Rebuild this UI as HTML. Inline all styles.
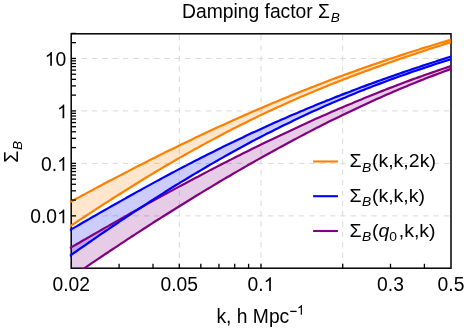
<!DOCTYPE html>
<html><head><meta charset="utf-8"><title>Damping factor</title>
<style>
html,body{margin:0;padding:0;background:#fff;}
svg{display:block;will-change:transform;font-family:"Liberation Sans",sans-serif;font-size:19.3px;fill:#000;}
</style></head><body>
<svg width="466" height="330" viewBox="0 0 466 330">
<rect width="466" height="330" fill="#fff"/>
<g stroke="#d9d9d9" stroke-width="1" stroke-dasharray="5.45 4.9" fill="none">
<line x1="71.2" y1="58.45" x2="451.0" y2="58.45"/>
<line x1="71.2" y1="110.92" x2="451.0" y2="110.92"/>
<line x1="71.2" y1="163.39" x2="451.0" y2="163.39"/>
<line x1="71.2" y1="215.86" x2="451.0" y2="215.86"/>
<line x1="179.30" y1="268.2" x2="179.30" y2="33.8"/>
<line x1="261.00" y1="268.2" x2="261.00" y2="33.8"/>
<line x1="342.70" y1="268.2" x2="342.70" y2="33.8"/>
</g>
<clipPath id="c"><rect x="69.60" y="33.8" width="381.70" height="235.30"/></clipPath>
<clipPath id="f"><rect x="71.2" y="33.8" width="379.8" height="234.39999999999998"/></clipPath>
<g clip-path="url(#f)">
<path d="M69.7,202.3L72.9,200.5L76.1,198.8L79.3,197.1L82.5,195.3L85.7,193.6L88.9,191.9L92.1,190.2L95.3,188.4L98.5,186.7L101.7,185.0L104.9,183.3L108.2,181.6L111.4,180.0L114.6,178.3L117.8,176.6L121.0,174.9L124.2,173.3L127.4,171.6L130.6,169.9L133.8,168.3L137.0,166.6L140.2,165.0L143.4,163.4L146.6,161.8L149.8,160.1L153.0,158.5L156.2,156.9L159.4,155.3L162.6,153.7L165.8,152.1L169.0,150.5L172.2,149.0L175.4,147.4L178.6,145.8L181.8,144.3L185.1,142.7L188.3,141.2L191.5,139.7L194.7,138.1L197.9,136.6L201.1,135.1L204.3,133.6L207.5,132.1L210.7,130.6L213.9,129.1L217.1,127.6L220.3,126.1L223.5,124.7L226.7,123.2L229.9,121.8L233.1,120.3L236.3,118.9L239.5,117.5L242.7,116.0L245.9,114.6L249.1,113.2L252.3,111.8L255.5,110.4L258.7,109.0L262.0,107.7L265.2,106.3L268.4,104.9L271.6,103.6L274.8,102.2L278.0,100.9L281.2,99.6L284.4,98.2L287.6,96.9L290.8,95.6L294.0,94.3L297.2,93.0L300.4,91.7L303.6,90.5L306.8,89.2L310.0,87.9L313.2,86.7L316.4,85.4L319.6,84.2L322.8,83.0L326.0,81.7L329.2,80.5L332.4,79.3L335.6,78.1L338.9,76.9L342.1,75.7L345.3,74.5L348.5,73.4L351.7,72.2L354.9,71.1L358.1,69.9L361.3,68.8L364.5,67.6L367.7,66.5L370.9,65.4L374.1,64.3L377.3,63.2L380.5,62.1L383.7,61.0L386.9,59.9L390.1,58.8L393.3,57.7L396.5,56.7L399.7,55.6L402.9,54.6L406.1,53.5L409.3,52.5L412.5,51.5L415.8,50.5L419.0,49.5L422.2,48.4L425.4,47.4L428.6,46.5L431.8,45.5L435.0,44.5L438.2,43.5L441.4,42.5L444.6,41.6L447.8,40.6L451.0,39.7L451.0,42.1L447.8,43.1L444.6,44.1L441.4,45.2L438.2,46.2L435.0,47.3L431.8,48.3L428.6,49.3L425.4,50.4L422.2,51.5L419.0,52.5L415.8,53.6L412.5,54.7L409.3,55.7L406.1,56.8L402.9,57.9L399.7,59.0L396.5,60.1L393.3,61.2L390.1,62.3L386.9,63.5L383.7,64.6L380.5,65.7L377.3,66.9L374.1,68.0L370.9,69.2L367.7,70.4L364.5,71.5L361.3,72.7L358.1,73.9L354.9,75.1L351.7,76.3L348.5,77.6L345.3,78.8L342.1,80.0L338.9,81.3L335.6,82.6L332.4,83.8L329.2,85.1L326.0,86.4L322.8,87.7L319.6,89.0L316.4,90.3L313.2,91.7L310.0,93.0L306.8,94.4L303.6,95.8L300.4,97.1L297.2,98.5L294.0,99.9L290.8,101.3L287.6,102.8L284.4,104.2L281.2,105.7L278.0,107.1L274.8,108.6L271.6,110.1L268.4,111.6L265.2,113.1L262.0,114.6L258.7,116.1L255.5,117.7L252.3,119.2L249.1,120.8L245.9,122.4L242.7,124.0L239.5,125.6L236.3,127.2L233.1,128.8L229.9,130.5L226.7,132.1L223.5,133.8L220.3,135.5L217.1,137.2L213.9,138.9L210.7,140.6L207.5,142.3L204.3,144.1L201.1,145.8L197.9,147.6L194.7,149.3L191.5,151.1L188.3,152.9L185.1,154.7L181.8,156.6L178.6,158.4L175.4,160.2L172.2,162.1L169.0,164.0L165.8,165.8L162.6,167.7L159.4,169.6L156.2,171.5L153.0,173.5L149.8,175.4L146.6,177.3L143.4,179.3L140.2,181.2L137.0,183.2L133.8,185.2L130.6,187.2L127.4,189.2L124.2,191.2L121.0,193.2L117.8,195.2L114.6,197.3L111.4,199.3L108.2,201.4L104.9,203.4L101.7,205.5L98.5,207.6L95.3,209.7L92.1,211.8L88.9,213.9L85.7,216.0L82.5,218.1L79.3,220.2L76.1,222.3L72.9,224.4L69.7,226.6Z" fill="#ff8000" fill-opacity="0.2" stroke="none"/>
<path d="M69.7,230.3L72.9,228.4L76.1,226.6L79.3,224.7L82.5,222.8L85.7,221.0L88.9,219.1L92.1,217.3L95.3,215.5L98.5,213.6L101.7,211.8L104.9,210.0L108.2,208.1L111.4,206.3L114.6,204.5L117.8,202.7L121.0,200.9L124.2,199.1L127.4,197.3L130.6,195.5L133.8,193.7L137.0,191.9L140.2,190.2L143.4,188.4L146.6,186.6L149.8,184.9L153.0,183.1L156.2,181.4L159.4,179.7L162.6,177.9L165.8,176.2L169.0,174.5L172.2,172.8L175.4,171.1L178.6,169.4L181.8,167.7L185.1,166.1L188.3,164.4L191.5,162.7L194.7,161.1L197.9,159.5L201.1,157.8L204.3,156.2L207.5,154.6L210.7,153.0L213.9,151.4L217.1,149.8L220.3,148.2L223.5,146.6L226.7,145.1L229.9,143.5L233.1,142.0L236.3,140.4L239.5,138.9L242.7,137.4L245.9,135.8L249.1,134.3L252.3,132.8L255.5,131.4L258.7,129.9L262.0,128.4L265.2,127.0L268.4,125.5L271.6,124.1L274.8,122.6L278.0,121.2L281.2,119.8L284.4,118.4L287.6,117.0L290.8,115.6L294.0,114.2L297.2,112.9L300.4,111.5L303.6,110.2L306.8,108.8L310.0,107.5L313.2,106.2L316.4,104.8L319.6,103.5L322.8,102.2L326.0,100.9L329.2,99.7L332.4,98.4L335.6,97.1L338.9,95.9L342.1,94.6L345.3,93.4L348.5,92.2L351.7,90.9L354.9,89.7L358.1,88.5L361.3,87.3L364.5,86.1L367.7,84.9L370.9,83.8L374.1,82.6L377.3,81.4L380.5,80.3L383.7,79.1L386.9,78.0L390.1,76.9L393.3,75.7L396.5,74.6L399.7,73.5L402.9,72.4L406.1,71.3L409.3,70.2L412.5,69.1L415.8,68.0L419.0,67.0L422.2,65.9L425.4,64.8L428.6,63.8L431.8,62.7L435.0,61.7L438.2,60.6L441.4,59.6L444.6,58.6L447.8,57.5L451.0,56.5L451.0,59.3L447.8,60.3L444.6,61.3L441.4,62.3L438.2,63.3L435.0,64.3L431.8,65.4L428.6,66.4L425.4,67.5L422.2,68.6L419.0,69.6L415.8,70.7L412.5,71.8L409.3,72.9L406.1,74.1L402.9,75.2L399.7,76.3L396.5,77.5L393.3,78.6L390.1,79.8L386.9,81.0L383.7,82.2L380.5,83.4L377.3,84.6L374.1,85.8L370.9,87.1L367.7,88.3L364.5,89.6L361.3,90.8L358.1,92.1L354.9,93.4L351.7,94.7L348.5,96.0L345.3,97.4L342.1,98.7L338.9,100.1L335.6,101.4L332.4,102.8L329.2,104.2L326.0,105.6L322.8,107.0L319.6,108.5L316.4,109.9L313.2,111.3L310.0,112.8L306.8,114.3L303.6,115.8L300.4,117.3L297.2,118.8L294.0,120.3L290.8,121.9L287.6,123.4L284.4,125.0L281.2,126.6L278.0,128.2L274.8,129.8L271.6,131.4L268.4,133.0L265.2,134.6L262.0,136.3L258.7,138.0L255.5,139.6L252.3,141.3L249.1,143.0L245.9,144.8L242.7,146.5L239.5,148.2L236.3,150.0L233.1,151.7L229.9,153.5L226.7,155.3L223.5,157.1L220.3,158.9L217.1,160.8L213.9,162.6L210.7,164.4L207.5,166.3L204.3,168.2L201.1,170.1L197.9,172.0L194.7,173.9L191.5,175.8L188.3,177.7L185.1,179.7L181.8,181.6L178.6,183.6L175.4,185.5L172.2,187.5L169.0,189.5L165.8,191.5L162.6,193.6L159.4,195.6L156.2,197.6L153.0,199.7L149.8,201.7L146.6,203.8L143.4,205.9L140.2,208.0L137.0,210.1L133.8,212.2L130.6,214.3L127.4,216.4L124.2,218.5L121.0,220.7L117.8,222.8L114.6,225.0L111.4,227.1L108.2,229.3L104.9,231.5L101.7,233.7L98.5,235.9L95.3,238.1L92.1,240.3L88.9,242.5L85.7,244.8L82.5,247.0L79.3,249.2L76.1,251.5L72.9,253.7L69.7,256.0Z" fill="#0000ff" fill-opacity="0.2" stroke="none"/>
<path d="M69.7,248.3L72.9,246.4L76.1,244.5L79.3,242.7L82.5,240.8L85.7,239.0L88.9,237.1L92.1,235.2L95.3,233.4L98.5,231.6L101.7,229.7L104.9,227.9L108.2,226.1L111.4,224.2L114.6,222.4L117.8,220.6L121.0,218.8L124.2,217.0L127.4,215.1L130.6,213.3L133.8,211.5L137.0,209.8L140.2,208.0L143.4,206.2L146.6,204.4L149.8,202.6L153.0,200.9L156.2,199.1L159.4,197.3L162.6,195.6L165.8,193.8L169.0,192.1L172.2,190.4L175.4,188.6L178.6,186.9L181.8,185.2L185.1,183.5L188.3,181.7L191.5,180.0L194.7,178.3L197.9,176.7L201.1,175.0L204.3,173.3L207.5,171.6L210.7,169.9L213.9,168.3L217.1,166.6L220.3,165.0L223.5,163.3L226.7,161.7L229.9,160.1L233.1,158.4L236.3,156.8L239.5,155.2L242.7,153.6L245.9,152.0L249.1,150.4L252.3,148.8L255.5,147.2L258.7,145.7L262.0,144.1L265.2,142.5L268.4,141.0L271.6,139.5L274.8,137.9L278.0,136.4L281.2,134.9L284.4,133.4L287.6,131.9L290.8,130.4L294.0,128.9L297.2,127.4L300.4,125.9L303.6,124.4L306.8,123.0L310.0,121.5L313.2,120.1L316.4,118.6L319.6,117.2L322.8,115.8L326.0,114.4L329.2,113.0L332.4,111.6L335.6,110.2L338.9,108.8L342.1,107.4L345.3,106.1L348.5,104.7L351.7,103.4L354.9,102.0L358.1,100.7L361.3,99.4L364.5,98.1L367.7,96.8L370.9,95.5L374.1,94.2L377.3,92.9L380.5,91.6L383.7,90.4L386.9,89.1L390.1,87.9L393.3,86.7L396.5,85.4L399.7,84.2L402.9,83.0L406.1,81.8L409.3,80.6L412.5,79.4L415.8,78.3L419.0,77.1L422.2,76.0L425.4,74.8L428.6,73.7L431.8,72.6L435.0,71.5L438.2,70.4L441.4,69.3L444.6,68.2L447.8,67.1L451.0,66.0L451.0,68.9L447.8,70.1L444.6,71.3L441.4,72.5L438.2,73.7L435.0,74.9L431.8,76.1L428.6,77.3L425.4,78.6L422.2,79.9L419.0,81.1L415.8,82.4L412.5,83.7L409.3,85.0L406.1,86.4L402.9,87.7L399.7,89.1L396.5,90.4L393.3,91.8L390.1,93.2L386.9,94.6L383.7,96.0L380.5,97.4L377.3,98.8L374.1,100.3L370.9,101.7L367.7,103.2L364.5,104.7L361.3,106.2L358.1,107.7L354.9,109.2L351.7,110.7L348.5,112.2L345.3,113.8L342.1,115.3L338.9,116.9L335.6,118.5L332.4,120.0L329.2,121.6L326.0,123.2L322.8,124.8L319.6,126.5L316.4,128.1L313.2,129.7L310.0,131.4L306.8,133.1L303.6,134.7L300.4,136.4L297.2,138.1L294.0,139.8L290.8,141.5L287.6,143.2L284.4,145.0L281.2,146.7L278.0,148.4L274.8,150.2L271.6,152.0L268.4,153.7L265.2,155.5L262.0,157.3L258.7,159.1L255.5,160.9L252.3,162.7L249.1,164.5L245.9,166.4L242.7,168.2L239.5,170.1L236.3,171.9L233.1,173.8L229.9,175.7L226.7,177.5L223.5,179.4L220.3,181.3L217.1,183.2L213.9,185.1L210.7,187.1L207.5,189.0L204.3,190.9L201.1,192.9L197.9,194.8L194.7,196.8L191.5,198.7L188.3,200.7L185.1,202.7L181.8,204.7L178.6,206.7L175.4,208.7L172.2,210.7L169.0,212.7L165.8,214.7L162.6,216.7L159.4,218.8L156.2,220.8L153.0,222.8L149.8,224.9L146.6,227.0L143.4,229.0L140.2,231.1L137.0,233.2L133.8,235.3L130.6,237.3L127.4,239.4L124.2,241.6L121.0,243.7L117.8,245.8L114.6,247.9L111.4,250.0L108.2,252.2L104.9,254.3L101.7,256.5L98.5,258.6L95.3,260.8L92.1,262.9L88.9,265.1L85.7,267.3L82.5,269.5L79.3,271.6L76.1,273.8L72.9,276.0L69.7,278.2Z" fill="#800080" fill-opacity="0.2" stroke="none"/>
</g>
<rect x="71.2" y="33.8" width="379.8" height="234.39999999999998" fill="none" stroke="#000" stroke-width="1.5"/>
<g clip-path="url(#c)" stroke-linejoin="round">
<path d="M69.7,248.3L72.9,246.4L76.1,244.5L79.3,242.7L82.5,240.8L85.7,239.0L88.9,237.1L92.1,235.2L95.3,233.4L98.5,231.6L101.7,229.7L104.9,227.9L108.2,226.1L111.4,224.2L114.6,222.4L117.8,220.6L121.0,218.8L124.2,217.0L127.4,215.1L130.6,213.3L133.8,211.5L137.0,209.8L140.2,208.0L143.4,206.2L146.6,204.4L149.8,202.6L153.0,200.9L156.2,199.1L159.4,197.3L162.6,195.6L165.8,193.8L169.0,192.1L172.2,190.4L175.4,188.6L178.6,186.9L181.8,185.2L185.1,183.5L188.3,181.7L191.5,180.0L194.7,178.3L197.9,176.7L201.1,175.0L204.3,173.3L207.5,171.6L210.7,169.9L213.9,168.3L217.1,166.6L220.3,165.0L223.5,163.3L226.7,161.7L229.9,160.1L233.1,158.4L236.3,156.8L239.5,155.2L242.7,153.6L245.9,152.0L249.1,150.4L252.3,148.8L255.5,147.2L258.7,145.7L262.0,144.1L265.2,142.5L268.4,141.0L271.6,139.5L274.8,137.9L278.0,136.4L281.2,134.9L284.4,133.4L287.6,131.9L290.8,130.4L294.0,128.9L297.2,127.4L300.4,125.9L303.6,124.4L306.8,123.0L310.0,121.5L313.2,120.1L316.4,118.6L319.6,117.2L322.8,115.8L326.0,114.4L329.2,113.0L332.4,111.6L335.6,110.2L338.9,108.8L342.1,107.4L345.3,106.1L348.5,104.7L351.7,103.4L354.9,102.0L358.1,100.7L361.3,99.4L364.5,98.1L367.7,96.8L370.9,95.5L374.1,94.2L377.3,92.9L380.5,91.6L383.7,90.4L386.9,89.1L390.1,87.9L393.3,86.7L396.5,85.4L399.7,84.2L402.9,83.0L406.1,81.8L409.3,80.6L412.5,79.4L415.8,78.3L419.0,77.1L422.2,76.0L425.4,74.8L428.6,73.7L431.8,72.6L435.0,71.5L438.2,70.4L441.4,69.3L444.6,68.2L447.8,67.1L451.0,66.0" fill="none" stroke="#800080" stroke-width="2.2"/>
<path d="M69.7,278.2L72.9,276.0L76.1,273.8L79.3,271.6L82.5,269.5L85.7,267.3L88.9,265.1L92.1,262.9L95.3,260.8L98.5,258.6L101.7,256.5L104.9,254.3L108.2,252.2L111.4,250.0L114.6,247.9L117.8,245.8L121.0,243.7L124.2,241.6L127.4,239.4L130.6,237.3L133.8,235.3L137.0,233.2L140.2,231.1L143.4,229.0L146.6,227.0L149.8,224.9L153.0,222.8L156.2,220.8L159.4,218.8L162.6,216.7L165.8,214.7L169.0,212.7L172.2,210.7L175.4,208.7L178.6,206.7L181.8,204.7L185.1,202.7L188.3,200.7L191.5,198.7L194.7,196.8L197.9,194.8L201.1,192.9L204.3,190.9L207.5,189.0L210.7,187.1L213.9,185.1L217.1,183.2L220.3,181.3L223.5,179.4L226.7,177.5L229.9,175.7L233.1,173.8L236.3,171.9L239.5,170.1L242.7,168.2L245.9,166.4L249.1,164.5L252.3,162.7L255.5,160.9L258.7,159.1L262.0,157.3L265.2,155.5L268.4,153.7L271.6,152.0L274.8,150.2L278.0,148.4L281.2,146.7L284.4,145.0L287.6,143.2L290.8,141.5L294.0,139.8L297.2,138.1L300.4,136.4L303.6,134.7L306.8,133.1L310.0,131.4L313.2,129.7L316.4,128.1L319.6,126.5L322.8,124.8L326.0,123.2L329.2,121.6L332.4,120.0L335.6,118.5L338.9,116.9L342.1,115.3L345.3,113.8L348.5,112.2L351.7,110.7L354.9,109.2L358.1,107.7L361.3,106.2L364.5,104.7L367.7,103.2L370.9,101.7L374.1,100.3L377.3,98.8L380.5,97.4L383.7,96.0L386.9,94.6L390.1,93.2L393.3,91.8L396.5,90.4L399.7,89.1L402.9,87.7L406.1,86.4L409.3,85.0L412.5,83.7L415.8,82.4L419.0,81.1L422.2,79.9L425.4,78.6L428.6,77.3L431.8,76.1L435.0,74.9L438.2,73.7L441.4,72.5L444.6,71.3L447.8,70.1L451.0,68.9" fill="none" stroke="#800080" stroke-width="2.2"/>
<path d="M69.7,230.3L72.9,228.4L76.1,226.6L79.3,224.7L82.5,222.8L85.7,221.0L88.9,219.1L92.1,217.3L95.3,215.5L98.5,213.6L101.7,211.8L104.9,210.0L108.2,208.1L111.4,206.3L114.6,204.5L117.8,202.7L121.0,200.9L124.2,199.1L127.4,197.3L130.6,195.5L133.8,193.7L137.0,191.9L140.2,190.2L143.4,188.4L146.6,186.6L149.8,184.9L153.0,183.1L156.2,181.4L159.4,179.7L162.6,177.9L165.8,176.2L169.0,174.5L172.2,172.8L175.4,171.1L178.6,169.4L181.8,167.7L185.1,166.1L188.3,164.4L191.5,162.7L194.7,161.1L197.9,159.5L201.1,157.8L204.3,156.2L207.5,154.6L210.7,153.0L213.9,151.4L217.1,149.8L220.3,148.2L223.5,146.6L226.7,145.1L229.9,143.5L233.1,142.0L236.3,140.4L239.5,138.9L242.7,137.4L245.9,135.8L249.1,134.3L252.3,132.8L255.5,131.4L258.7,129.9L262.0,128.4L265.2,127.0L268.4,125.5L271.6,124.1L274.8,122.6L278.0,121.2L281.2,119.8L284.4,118.4L287.6,117.0L290.8,115.6L294.0,114.2L297.2,112.9L300.4,111.5L303.6,110.2L306.8,108.8L310.0,107.5L313.2,106.2L316.4,104.8L319.6,103.5L322.8,102.2L326.0,100.9L329.2,99.7L332.4,98.4L335.6,97.1L338.9,95.9L342.1,94.6L345.3,93.4L348.5,92.2L351.7,90.9L354.9,89.7L358.1,88.5L361.3,87.3L364.5,86.1L367.7,84.9L370.9,83.8L374.1,82.6L377.3,81.4L380.5,80.3L383.7,79.1L386.9,78.0L390.1,76.9L393.3,75.7L396.5,74.6L399.7,73.5L402.9,72.4L406.1,71.3L409.3,70.2L412.5,69.1L415.8,68.0L419.0,67.0L422.2,65.9L425.4,64.8L428.6,63.8L431.8,62.7L435.0,61.7L438.2,60.6L441.4,59.6L444.6,58.6L447.8,57.5L451.0,56.5" fill="none" stroke="#0000ff" stroke-width="2.2"/>
<path d="M69.7,256.0L72.9,253.7L76.1,251.5L79.3,249.2L82.5,247.0L85.7,244.8L88.9,242.5L92.1,240.3L95.3,238.1L98.5,235.9L101.7,233.7L104.9,231.5L108.2,229.3L111.4,227.1L114.6,225.0L117.8,222.8L121.0,220.7L124.2,218.5L127.4,216.4L130.6,214.3L133.8,212.2L137.0,210.1L140.2,208.0L143.4,205.9L146.6,203.8L149.8,201.7L153.0,199.7L156.2,197.6L159.4,195.6L162.6,193.6L165.8,191.5L169.0,189.5L172.2,187.5L175.4,185.5L178.6,183.6L181.8,181.6L185.1,179.7L188.3,177.7L191.5,175.8L194.7,173.9L197.9,172.0L201.1,170.1L204.3,168.2L207.5,166.3L210.7,164.4L213.9,162.6L217.1,160.8L220.3,158.9L223.5,157.1L226.7,155.3L229.9,153.5L233.1,151.7L236.3,150.0L239.5,148.2L242.7,146.5L245.9,144.8L249.1,143.0L252.3,141.3L255.5,139.6L258.7,138.0L262.0,136.3L265.2,134.6L268.4,133.0L271.6,131.4L274.8,129.8L278.0,128.2L281.2,126.6L284.4,125.0L287.6,123.4L290.8,121.9L294.0,120.3L297.2,118.8L300.4,117.3L303.6,115.8L306.8,114.3L310.0,112.8L313.2,111.3L316.4,109.9L319.6,108.5L322.8,107.0L326.0,105.6L329.2,104.2L332.4,102.8L335.6,101.4L338.9,100.1L342.1,98.7L345.3,97.4L348.5,96.0L351.7,94.7L354.9,93.4L358.1,92.1L361.3,90.8L364.5,89.6L367.7,88.3L370.9,87.1L374.1,85.8L377.3,84.6L380.5,83.4L383.7,82.2L386.9,81.0L390.1,79.8L393.3,78.6L396.5,77.5L399.7,76.3L402.9,75.2L406.1,74.1L409.3,72.9L412.5,71.8L415.8,70.7L419.0,69.6L422.2,68.6L425.4,67.5L428.6,66.4L431.8,65.4L435.0,64.3L438.2,63.3L441.4,62.3L444.6,61.3L447.8,60.3L451.0,59.3" fill="none" stroke="#0000ff" stroke-width="2.2"/>
<path d="M69.7,202.3L72.9,200.5L76.1,198.8L79.3,197.1L82.5,195.3L85.7,193.6L88.9,191.9L92.1,190.2L95.3,188.4L98.5,186.7L101.7,185.0L104.9,183.3L108.2,181.6L111.4,180.0L114.6,178.3L117.8,176.6L121.0,174.9L124.2,173.3L127.4,171.6L130.6,169.9L133.8,168.3L137.0,166.6L140.2,165.0L143.4,163.4L146.6,161.8L149.8,160.1L153.0,158.5L156.2,156.9L159.4,155.3L162.6,153.7L165.8,152.1L169.0,150.5L172.2,149.0L175.4,147.4L178.6,145.8L181.8,144.3L185.1,142.7L188.3,141.2L191.5,139.7L194.7,138.1L197.9,136.6L201.1,135.1L204.3,133.6L207.5,132.1L210.7,130.6L213.9,129.1L217.1,127.6L220.3,126.1L223.5,124.7L226.7,123.2L229.9,121.8L233.1,120.3L236.3,118.9L239.5,117.5L242.7,116.0L245.9,114.6L249.1,113.2L252.3,111.8L255.5,110.4L258.7,109.0L262.0,107.7L265.2,106.3L268.4,104.9L271.6,103.6L274.8,102.2L278.0,100.9L281.2,99.6L284.4,98.2L287.6,96.9L290.8,95.6L294.0,94.3L297.2,93.0L300.4,91.7L303.6,90.5L306.8,89.2L310.0,87.9L313.2,86.7L316.4,85.4L319.6,84.2L322.8,83.0L326.0,81.7L329.2,80.5L332.4,79.3L335.6,78.1L338.9,76.9L342.1,75.7L345.3,74.5L348.5,73.4L351.7,72.2L354.9,71.1L358.1,69.9L361.3,68.8L364.5,67.6L367.7,66.5L370.9,65.4L374.1,64.3L377.3,63.2L380.5,62.1L383.7,61.0L386.9,59.9L390.1,58.8L393.3,57.7L396.5,56.7L399.7,55.6L402.9,54.6L406.1,53.5L409.3,52.5L412.5,51.5L415.8,50.5L419.0,49.5L422.2,48.4L425.4,47.4L428.6,46.5L431.8,45.5L435.0,44.5L438.2,43.5L441.4,42.5L444.6,41.6L447.8,40.6L451.0,39.7" fill="none" stroke="#ff8000" stroke-width="2.2"/>
<path d="M69.7,226.6L72.9,224.4L76.1,222.3L79.3,220.2L82.5,218.1L85.7,216.0L88.9,213.9L92.1,211.8L95.3,209.7L98.5,207.6L101.7,205.5L104.9,203.4L108.2,201.4L111.4,199.3L114.6,197.3L117.8,195.2L121.0,193.2L124.2,191.2L127.4,189.2L130.6,187.2L133.8,185.2L137.0,183.2L140.2,181.2L143.4,179.3L146.6,177.3L149.8,175.4L153.0,173.5L156.2,171.5L159.4,169.6L162.6,167.7L165.8,165.8L169.0,164.0L172.2,162.1L175.4,160.2L178.6,158.4L181.8,156.6L185.1,154.7L188.3,152.9L191.5,151.1L194.7,149.3L197.9,147.6L201.1,145.8L204.3,144.1L207.5,142.3L210.7,140.6L213.9,138.9L217.1,137.2L220.3,135.5L223.5,133.8L226.7,132.1L229.9,130.5L233.1,128.8L236.3,127.2L239.5,125.6L242.7,124.0L245.9,122.4L249.1,120.8L252.3,119.2L255.5,117.7L258.7,116.1L262.0,114.6L265.2,113.1L268.4,111.6L271.6,110.1L274.8,108.6L278.0,107.1L281.2,105.7L284.4,104.2L287.6,102.8L290.8,101.3L294.0,99.9L297.2,98.5L300.4,97.1L303.6,95.8L306.8,94.4L310.0,93.0L313.2,91.7L316.4,90.3L319.6,89.0L322.8,87.7L326.0,86.4L329.2,85.1L332.4,83.8L335.6,82.6L338.9,81.3L342.1,80.0L345.3,78.8L348.5,77.6L351.7,76.3L354.9,75.1L358.1,73.9L361.3,72.7L364.5,71.5L367.7,70.4L370.9,69.2L374.1,68.0L377.3,66.9L380.5,65.7L383.7,64.6L386.9,63.5L390.1,62.3L393.3,61.2L396.5,60.1L399.7,59.0L402.9,57.9L406.1,56.8L409.3,55.7L412.5,54.7L415.8,53.6L419.0,52.5L422.2,51.5L425.4,50.4L428.6,49.3L431.8,48.3L435.0,47.3L438.2,46.2L441.4,45.2L444.6,44.1L447.8,43.1L451.0,42.1" fill="none" stroke="#ff8000" stroke-width="2.2"/>
</g>
<g stroke="#000" stroke-width="1.3">
<line x1="71.2" y1="215.86" x2="76.0" y2="215.86"/>
<line x1="71.2" y1="200.06" x2="76.0" y2="200.06"/>
<line x1="71.2" y1="190.83" x2="76.0" y2="190.83"/>
<line x1="71.2" y1="184.27" x2="76.0" y2="184.27"/>
<line x1="71.2" y1="179.19" x2="76.0" y2="179.19"/>
<line x1="71.2" y1="175.03" x2="76.0" y2="175.03"/>
<line x1="71.2" y1="171.52" x2="76.0" y2="171.52"/>
<line x1="71.2" y1="168.47" x2="76.0" y2="168.47"/>
<line x1="71.2" y1="165.79" x2="76.0" y2="165.79"/>
<line x1="71.2" y1="163.39" x2="76.0" y2="163.39"/>
<line x1="71.2" y1="147.59" x2="76.0" y2="147.59"/>
<line x1="71.2" y1="138.36" x2="76.0" y2="138.36"/>
<line x1="71.2" y1="131.80" x2="76.0" y2="131.80"/>
<line x1="71.2" y1="126.72" x2="76.0" y2="126.72"/>
<line x1="71.2" y1="122.56" x2="76.0" y2="122.56"/>
<line x1="71.2" y1="119.05" x2="76.0" y2="119.05"/>
<line x1="71.2" y1="116.00" x2="76.0" y2="116.00"/>
<line x1="71.2" y1="113.32" x2="76.0" y2="113.32"/>
<line x1="71.2" y1="110.92" x2="76.0" y2="110.92"/>
<line x1="71.2" y1="95.12" x2="76.0" y2="95.12"/>
<line x1="71.2" y1="85.89" x2="76.0" y2="85.89"/>
<line x1="71.2" y1="79.33" x2="76.0" y2="79.33"/>
<line x1="71.2" y1="74.25" x2="76.0" y2="74.25"/>
<line x1="71.2" y1="70.09" x2="76.0" y2="70.09"/>
<line x1="71.2" y1="66.58" x2="76.0" y2="66.58"/>
<line x1="71.2" y1="63.53" x2="76.0" y2="63.53"/>
<line x1="71.2" y1="60.85" x2="76.0" y2="60.85"/>
<line x1="71.2" y1="58.45" x2="76.0" y2="58.45"/>
<line x1="71.2" y1="42.65" x2="76.0" y2="42.65"/>
<line x1="71.2" y1="33.42" x2="76.0" y2="33.42"/>
<line x1="119.09" y1="268.2" x2="119.09" y2="263.80"/>
<line x1="153.00" y1="268.2" x2="153.00" y2="263.80"/>
<line x1="179.30" y1="268.2" x2="179.30" y2="263.80"/>
<line x1="200.79" y1="268.2" x2="200.79" y2="263.80"/>
<line x1="218.96" y1="268.2" x2="218.96" y2="263.80"/>
<line x1="234.70" y1="268.2" x2="234.70" y2="263.80"/>
<line x1="248.58" y1="268.2" x2="248.58" y2="263.80"/>
<line x1="261.00" y1="268.2" x2="261.00" y2="263.80"/>
<line x1="342.70" y1="268.2" x2="342.70" y2="263.80"/>
<line x1="390.49" y1="268.2" x2="390.49" y2="263.80"/>
<line x1="424.40" y1="268.2" x2="424.40" y2="263.80"/>
</g>
<path transform="translate(44.73,65.85) scale(0.00942,-0.00942)" d="M763 0H583V1147Q518 1085 412.5 1023T223 930V1104Q373 1174.5 485.5 1275T644 1470H763Z"/><text x="55.47" y="65.85" font-size="19.3">0</text>
<path transform="translate(57.07,118.32) scale(0.00942,-0.00942)" d="M763 0H583V1147Q518 1085 412.5 1023T223 930V1104Q373 1174.5 485.5 1275T644 1470H763Z"/>
<text x="40.97" y="170.79" font-size="19.3">0.</text><path transform="translate(57.07,170.79) scale(0.00942,-0.00942)" d="M763 0H583V1147Q518 1085 412.5 1023T223 930V1104Q373 1174.5 485.5 1275T644 1470H763Z"/>
<text x="30.24" y="223.26" font-size="19.3">0.0</text><path transform="translate(57.07,223.26) scale(0.00942,-0.00942)" d="M763 0H583V1147Q518 1085 412.5 1023T223 930V1104Q373 1174.5 485.5 1275T644 1470H763Z"/>
<text x="52.52" y="291.10" font-size="19.3">0.02</text>
<text x="160.52" y="291.10" font-size="19.3">0.05</text>
<text x="247.59" y="291.10" font-size="19.3">0.</text><path transform="translate(263.68,291.10) scale(0.00942,-0.00942)" d="M763 0H583V1147Q518 1085 412.5 1023T223 930V1104Q373 1174.5 485.5 1275T644 1470H763Z"/>
<text x="377.08" y="291.10" font-size="19.3">0.3</text>
<text x="437.59" y="291.10" font-size="19.3">0.5</text>

<text x="182" y="18">Damping factor Σ<tspan font-size="13.7" font-style="italic" dx="0.7" dy="4.2">B</tspan></text>
<text x="216.4" y="322.8">k, h Mpc</text><rect x="290.2" y="310.75" width="6.4" height="1.3"/><path transform="translate(296.90,314.75) scale(0.00659,-0.00659)" d="M763 0H583V1147Q518 1085 412.5 1023T223 930V1104Q373 1174.5 485.5 1275T644 1470H763Z"/>

<text transform="translate(17.6,162.7) rotate(-90)">Σ<tspan font-size="13.7" font-style="italic" dx="0.7" dy="4.2">B</tspan></text>
<line x1="313.1" y1="161.5" x2="337.9" y2="161.5" stroke="#ff8000" stroke-width="2.1"/>
<text transform="translate(349.4,167.4) scale(1.085,1)" font-size="18.0">Σ<tspan font-size="12.8" font-style="italic" dx="0.6" dy="4.2">B</tspan><tspan dx="0.5" dy="-4.2">(k,k,2k)</tspan></text>
<line x1="313.1" y1="196.2" x2="337.9" y2="196.2" stroke="#0000ff" stroke-width="2.1"/>
<text transform="translate(349.4,202.2) scale(1.085,1)" font-size="18.0">Σ<tspan font-size="12.8" font-style="italic" dx="0.6" dy="4.2">B</tspan><tspan dx="0.5" dy="-4.2">(k,k,k)</tspan></text>
<line x1="313.1" y1="231.0" x2="337.9" y2="231.0" stroke="#800080" stroke-width="2.1"/>
<text transform="translate(349.4,236.9) scale(1.085,1)" font-size="18.0">Σ<tspan font-size="12.8" font-style="italic" dx="0.6" dy="4.2">B</tspan><tspan dx="0.5" dy="-4.2">(<tspan font-style="italic">q</tspan><tspan font-size="12.8" dy="3.6">0</tspan><tspan dx="1.6" dy="-3.6">,k,k)</tspan></tspan></text>

</svg>
</body></html>
